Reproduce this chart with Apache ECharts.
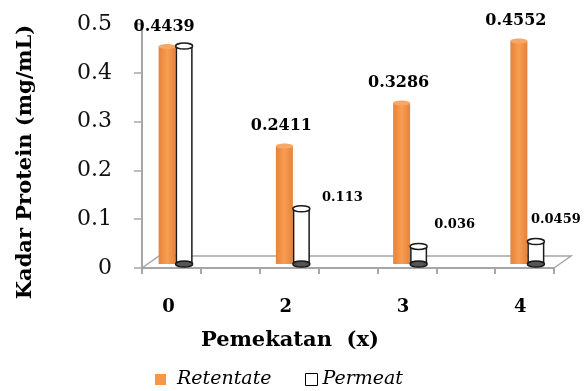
<!DOCTYPE html>
<html>
<head>
<meta charset="utf-8">
<script src="https://cdn.jsdelivr.net/npm/echarts@6/dist/echarts.min.js"></script>
<style>
html,body{margin:0;padding:0;background:#fff;}
#chart{width:586px;height:391px;}
</style>
</head>
<body>
<div id="chart"></div>
<script>
// ---- data ----
const categories = ['0', '2', '3', '4'];
const retentate = [0.4439, 0.2411, 0.3286, 0.4552];
const permeat = [0.445, 0.113, 0.036, 0.0459];
const permeatLabelShown = [false, true, true, true];
const yTickLabels = ['0', '0.1', '0.2', '0.3', '0.4', '0.5'];
const seriesNames = ['Retentate', 'Permeat'];
const xTitle = 'Pemekatan  (x)';
const yTitle = 'Kadar Protein (mg/mL)';

// ---- styles ----
const permLabelOffset = [[0, 0], [41, -5], [36, -15], [20, -15]];
const serif = 'DejaVu Serif';
const gray = '#A6A6A6';
const BW = 17;

const chart = echarts.init(document.getElementById('chart'));

const orangeGrad = new echarts.graphic.LinearGradient(0, 0, 1, 0, [
  {offset: 0, color: '#E5833A'},
  {offset: 0.5, color: '#F99D52'},
  {offset: 1, color: '#E5833A'}
]);

const permData = permeat.map((v, i) => ({
  value: v,
  label: {show: permeatLabelShown[i], offset: permLabelOffset[i]}
}));

function capSeries(name, values, dx, ry, atBase, style, z) {
  return {
    name: name, type: 'custom', xAxisIndex: 0, yAxisIndex: 0, z: z, silent: true,
    data: values.map((v, i) => [i, v]),
    encode: {x: 0, y: 1},
    renderItem: function (params, api) {
      const p = api.coord([api.value(0), atBase ? 0 : api.value(1)]);
      return {
        type: 'ellipse',
        shape: {cx: p[0] + dx, cy: p[1], rx: BW / 2, ry: ry},
        style: style
      };
    }
  };
}

const option = {
  animation: false,
  backgroundColor: '#fff',
  grid: [
    {left: 117, right: 0, top: 24, bottom: 123},
    {left: 142, right: 32, top: 24, bottom: 123}
  ],
  xAxis: [
    {
      type: 'category', gridIndex: 0, data: categories,
      axisLine: {show: false}, axisTick: {show: false}, splitLine: {show: false},
      axisLabel: {fontFamily: serif, fontWeight: 'bold', fontSize: 18, color: '#000', margin: 30, padding: [0, 14, 0, 0]}
    },
    {
      type: 'value', gridIndex: 1, min: 0, max: 7, interval: 1,
      axisLine: {show: true, lineStyle: {color: gray, width: 2}},
      axisTick: {show: true, length: 6, lineStyle: {color: gray, width: 2}},
      axisLabel: {show: false}, splitLine: {show: false}
    }
  ],
  yAxis: [
    {
      type: 'value', gridIndex: 0, min: -0.008, max: 0.49, show: false, splitLine: {show: false}
    },
    {
      type: 'value', gridIndex: 1, min: 0, max: 0.5, interval: 0.1,
      axisLine: {show: true, lineStyle: {color: gray, width: 2}},
      axisTick: {show: true, length: 8, lineStyle: {color: gray, width: 1.5}},
      splitLine: {show: false},
      axisLabel: {
        fontFamily: serif, fontSize: 22, color: '#111', margin: 30,
        formatter: (v) => yTickLabels[Math.round(v * 10)]
      }
    }
  ],
  legend: [
    {
      left: 155, top: 370, padding: 0, itemWidth: 11, itemHeight: 11, itemGap: 0,
      textStyle: {fontFamily: serif, fontStyle: 'italic', fontSize: 19, color: '#000', padding: [0, 0, 0, 6]},
      data: [{name: seriesNames[0], icon: 'rect', itemStyle: {color: '#F79646', borderWidth: 0}}]
    },
    {
      left: 305, top: 370, padding: 0, itemWidth: 12, itemHeight: 12, itemGap: 0,
      textStyle: {fontFamily: serif, fontStyle: 'italic', fontSize: 19, color: '#000'},
      data: [{name: seriesNames[1], icon: 'rect', itemStyle: {color: '#fff', borderColor: '#000', borderWidth: 1}}]
    }
  ],
  series: [
    {
      name: seriesNames[0], type: 'bar', xAxisIndex: 0, yAxisIndex: 0,
      data: retentate, barWidth: BW, barGap: '0%', z: 2,
      itemStyle: {color: orangeGrad},
      label: {show: true, position: 'top', distance: 12, offset: [-3, 0],
        fontFamily: serif, fontWeight: 'bold', fontSize: 16, color: '#000'}
    },
    {
      name: seriesNames[1], type: 'bar', xAxisIndex: 0, yAxisIndex: 0,
      data: permData, barWidth: BW, barGap: '0%', z: 2,
      itemStyle: {color: '#fff', borderColor: '#1a1a1a', borderWidth: 1.5},
      label: {position: 'top', distance: 0,
        fontFamily: serif, fontWeight: 'bold', fontSize: 13, color: '#000'}
    },
    capSeries('capR', retentate, -BW / 2, 2.5, false, {fill: '#F6A867'}, 3),
    capSeries('capPbot', permeat, BW / 2, 3, true, {fill: '#555', stroke: '#1a1a1a', lineWidth: 1.5}, 3),
    capSeries('capPtop', permeat, BW / 2, 3, false, {fill: '#fff', stroke: '#1a1a1a', lineWidth: 1.5}, 4)
  ]
};

chart.setOption(option);

// floor of the 3D plot, derived from the axis grid
const pA = chart.convertToPixel({gridIndex: 1}, [0, 0]);
const pB = chart.convertToPixel({gridIndex: 1}, [7, 0]);
const depth = [17, -12];
chart.setOption({
  graphic: [
    {
      type: 'polyline', z: 0, silent: true,
      shape: {points: [
        [pA[0], pA[1]], [pA[0] + depth[0], pA[1] + depth[1]],
        [pB[0] + depth[0], pB[1] + depth[1]], [pB[0], pB[1]]
      ]},
      style: {stroke: gray, lineWidth: 1.5, fill: null}
    },
    {
      type: 'text', x: 290, y: 341, silent: true,
      style: {text: xTitle, fontFamily: serif, fontWeight: 'bold', fontSize: 21, fill: '#000',
        textAlign: 'center', textVerticalAlign: 'middle'}
    },
    {
      type: 'text', x: 26, y: 162, rotation: Math.PI / 2, silent: true,
      style: {text: yTitle, fontFamily: serif, fontWeight: 'bold', fontSize: 21, fill: '#000',
        textAlign: 'center', textVerticalAlign: 'middle'}
    }
  ]
});
</script>
</body>
</html>
